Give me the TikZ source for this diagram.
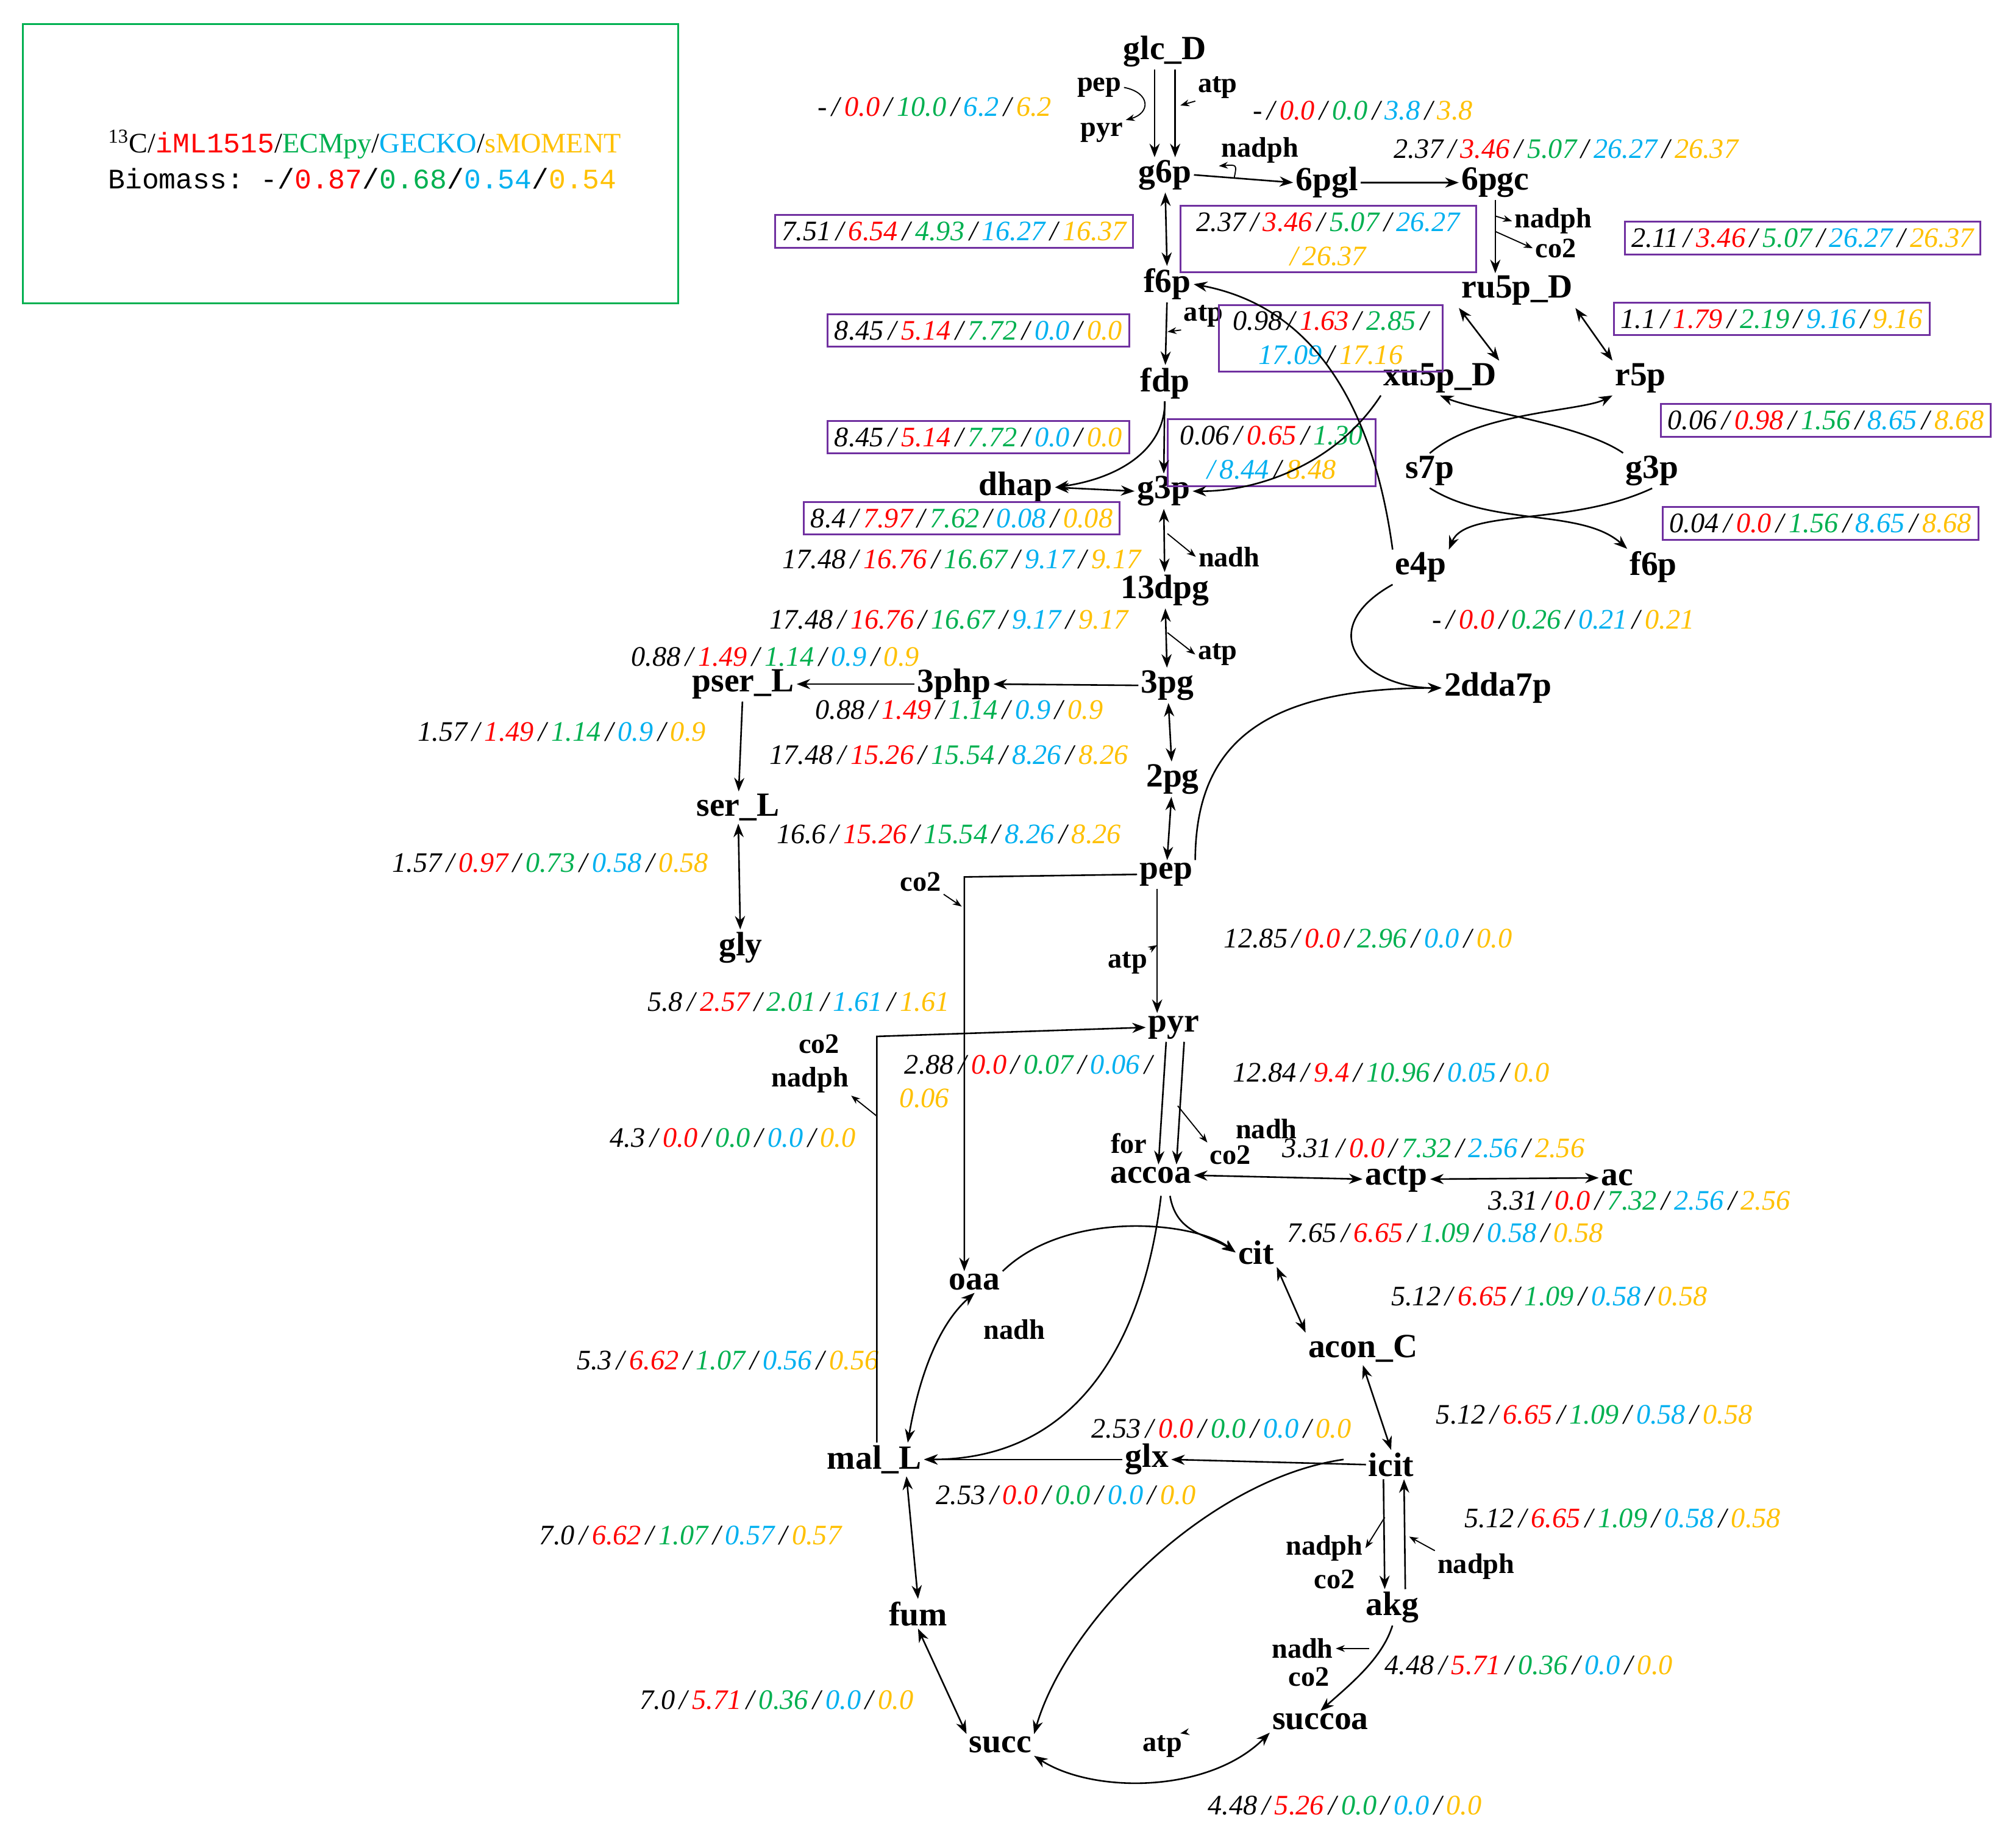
\documentclass[tikz,border=0pt]{standalone}
\usepackage{fontspec}
\setmainfont{Liberation Serif}
\setmonofont{Liberation Mono}
\usetikzlibrary{arrows.meta}
\definecolor{cR}{RGB}{255,0,0}
\definecolor{cG}{RGB}{0,176,80}
\definecolor{cB}{RGB}{0,176,240}
\definecolor{cO}{RGB}{255,192,0}
\definecolor{cP}{RGB}{112,48,160}
\newcommand\fl[5]{#1\,/\,\textcolor{cR}{#2}\,/\,\textcolor{cG}{#3}\,/\,\textcolor{cB}{#4}\,/\,\textcolor{cO}{#5}}
\begin{document}
\begin{tikzpicture}[x=0.02cm,y=-0.02cm,
 met/.style={font=\fontsize{15}{17}\selectfont\bfseries,inner sep=1pt},
 sm/.style={font=\fontsize{12.5}{14}\selectfont\bfseries,inner sep=1pt},
 num/.style={font=\fontsize{12.5}{15}\selectfont\itshape,inner sep=1pt},
 boxed/.style={num,draw=cP,line width=0.8pt,inner sep=3pt},
 ar/.style={-{Stealth[length=6pt,width=4.5pt]},line width=0.7pt},
 dbl/.style={{Stealth[length=6pt,width=4.5pt]}-{Stealth[length=6pt,width=4.5pt]},line width=0.7pt},
 tiny/.style={-{Stealth[length=4pt,width=3pt]},line width=0.5pt}]
\useasboundingbox (0,0) rectangle (1568,1420);
% legend
\node[draw=cG,line width=0.8pt,minimum width=510*0.02cm,minimum height=217*0.02cm,anchor=north west] (leg) at (17,18) {};
\node[anchor=west,font=\fontsize{12.5}{16}\selectfont,align=left] (legt) at (78,124) {\textsuperscript{13}C/\texttt{\textcolor{cR}{iML1515}}/\textcolor{cG}{ECMpy}/\textcolor{cB}{GECKO}/\textcolor{cO}{sMOMENT}\\ \texttt{Biomass: -/\textcolor{cR}{0.87}/\textcolor{cG}{0.68}/\textcolor{cB}{0.54}/\textcolor{cO}{0.54}}};
% metabolites
\node[met] (glc) at (906,40) {glc\_D};
\node[met] (g6p) at (906,136) {g6p};
\node[met] (pgl) at (1032,142) {6pgl};
\node[met] (pgc) at (1163,142) {6pgc};
\node[met] (f6p) at (908,221) {f6p};
\node[met] (ru5p) at (1180,226) {ru5p\_D};
\node[met] (xu5p) at (1120,294) {xu5p\_D};
\node[met] (r5p) at (1276,294) {r5p};
\node[met] (fdp) at (906,298) {fdp};
\node[met] (s7p) at (1112,366) {s7p};
\node[met] (g3pr) at (1285,366) {g3p};
\node[met] (dhap) at (790,379) {dhap};
\node[met] (g3p) at (905,382) {g3p};
\node[met] (e4p) at (1105,441) {e4p};
\node[met] (f6pr) at (1286,441) {f6p};
\node[met] (dpg) at (906,459) {13dpg};
\node[met] (pg3) at (908,533) {3pg};
\node[met] (php) at (742,532) {3php};
\node[met] (pser) at (578,532) {pser\_L};
\node[met] (dda) at (1165,535) {2dda7p};
\node[met] (pg2) at (912,606) {2pg};
\node[met] (ser) at (574,628) {ser\_L};
\node[met] (pep) at (907,680) {pep};
\node[met] (gly) at (576,737) {gly};
\node[met] (pyr) at (913,799) {pyr};
\node[met] (accoa) at (895,914) {accoa};
\node[met] (actp) at (1086,917) {actp};
\node[met] (ac) at (1258,916) {ac};
\node[met] (cit) at (977,974) {cit};
\node[met] (oaa) at (758,997) {oaa};
\node[met] (acon) at (1060,1049) {acon\_C};
\node[met] (mal) at (680,1135) {mal\_L};
\node[met] (glx) at (892,1135) {glx};
\node[met] (icit) at (1082,1139) {icit};
\node[met] (akg) at (1083,1250) {akg};
\node[met] (fum) at (714,1255) {fum};
\node[met] (succoa) at (1027,1339) {succoa};
\node[met] (succ) at (778,1357) {succ};
% cofactors
\node[sm] (c1) at (855,68) {pep};
\node[sm] (c2) at (857,103) {pyr};
\node[sm] (c3) at (947,68) {atp};
\node[sm] (c4) at (980,117) {nadph};
\node[sm] (c5) at (1208,172) {nadph};
\node[sm] (c6) at (1210,193) {co2};
\node[sm] (c7) at (936,246) {atp};
\node[sm] (c8) at (956,433) {nadh};
\node[sm] (c9) at (947,509) {atp};
\node[sm] (c10) at (716,686) {co2};
\node[sm] (c11) at (877,749) {atp};
\node[sm] (c12) at (637,812) {co2};
\node[sm] (c13) at (630,840) {nadph};
\node[sm] (c14) at (878,889) {for};
\node[sm] (c15) at (957,898) {co2};
\node[sm] (c16) at (985,878) {nadh};
\node[sm] (c17) at (789,1034) {nadh};
\node[sm] (c18) at (1030,1204) {nadph};
\node[sm] (c19) at (1038,1228) {co2};
\node[sm] (c20) at (1148,1218) {nadph};
\node[sm] (c21) at (1013,1282) {nadh};
\node[sm] (c22) at (1018,1304) {co2};
\node[sm] (c23) at (904,1358) {atp};
% fluxes
\node[num] (f1) at (727,83) {\fl{-}{0.0}{10.0}{6.2}{6.2}};
\node[num] (f2) at (1060,86) {\fl{-}{0.0}{0.0}{3.8}{3.8}};
\node[num] (f3) at (1218,116) {\fl{2.37}{3.46}{5.07}{26.27}{26.37}};
\node[boxed] (b1) at (742,180) {\fl{7.51}{6.54}{4.93}{16.27}{16.37}};
\node[boxed,align=center,minimum width=230*0.02cm] (b2) at (1033,186) {2.37\,/\,\textcolor{cR}{3.46}\,/\,\textcolor{cG}{5.07}\,/\,\textcolor{cB}{26.27}\\ \textcolor{cO}{/\,26.37}};
\node[boxed] (b3) at (1402,185) {\fl{2.11}{3.46}{5.07}{26.27}{26.37}};
\node[boxed] (b4) at (761,257) {\fl{8.45}{5.14}{7.72}{0.0}{0.0}};
\node[boxed,align=center,minimum width=174*0.02cm] (b5) at (1035,263) {0.98\,/\,\textcolor{cR}{1.63}\,/\,\textcolor{cG}{2.85}\,/\\ \textcolor{cB}{17.09}\,/\,\textcolor{cO}{17.16}};
\node[boxed] (b6) at (1378,248) {\fl{1.1}{1.79}{2.19}{9.16}{9.16}};
\node[boxed] (b7) at (1420,327) {\fl{0.06}{0.98}{1.56}{8.65}{8.68}};
\node[boxed] (b8) at (761,340) {\fl{8.45}{5.14}{7.72}{0.0}{0.0}};
\node[boxed,align=center,minimum width=162*0.02cm] (b9) at (989,352) {0.06\,/\,\textcolor{cR}{0.65}\,/\,\textcolor{cG}{1.30}\\ \textcolor{cB}{/\,8.44}\,/\,\textcolor{cO}{8.48}};
\node[boxed] (b10) at (748,403) {\fl{8.4}{7.97}{7.62}{0.08}{0.08}};
\node[boxed] (b11) at (1416,407) {\fl{0.04}{0.0}{1.56}{8.65}{8.68}};
\node[num] (f4) at (748,435) {\fl{17.48}{16.76}{16.67}{9.17}{9.17}};
\node[num] (f5) at (738,482) {\fl{17.48}{16.76}{16.67}{9.17}{9.17}};
\node[num] (f6) at (1216,482) {\fl{-}{0.0}{0.26}{0.21}{0.21}};
\node[num] (f7) at (603,511) {\fl{0.88}{1.49}{1.14}{0.9}{0.9}};
\node[num] (f8) at (746,552) {\fl{0.88}{1.49}{1.14}{0.9}{0.9}};
\node[num] (f9) at (437,569) {\fl{1.57}{1.49}{1.14}{0.9}{0.9}};
\node[num] (f10) at (738,587) {\fl{17.48}{15.26}{15.54}{8.26}{8.26}};
\node[num] (f11) at (738,649) {\fl{16.6}{15.26}{15.54}{8.26}{8.26}};
\node[num] (f12) at (428,671) {\fl{1.57}{0.97}{0.73}{0.58}{0.58}};
\node[num] (f13) at (1064,730) {\fl{12.85}{0.0}{2.96}{0.0}{0.0}};
\node[num] (f14) at (621,779) {\fl{5.8}{2.57}{2.01}{1.61}{1.61}};
\node[num] (f15) at (800,828) {2.88\,/\,\textcolor{cR}{0.0}\,/\,\textcolor{cG}{0.07}\,/\,\textcolor{cB}{0.06}\,/};
\node[num] (f15b) at (719,854) {\textcolor{cO}{0.06}};
\node[num] (f16) at (1082,834) {\fl{12.84}{9.4}{10.96}{0.05}{0.0}};
\node[num] (f17) at (570,885) {\fl{4.3}{0.0}{0.0}{0.0}{0.0}};
\node[num] (f18) at (1115,893) {\fl{3.31}{0.0}{7.32}{2.56}{2.56}};
\node[num] (f19) at (1275,934) {\fl{3.31}{0.0}{7.32}{2.56}{2.56}};
\node[num] (f20) at (1124,959) {\fl{7.65}{6.65}{1.09}{0.58}{0.58}};
\node[num] (f21) at (1205,1008) {\fl{5.12}{6.65}{1.09}{0.58}{0.58}};
\node[num] (f22) at (566,1058) {\fl{5.3}{6.62}{1.07}{0.56}{0.56}};
\node[num] (f23) at (1240,1100) {\fl{5.12}{6.65}{1.09}{0.58}{0.58}};
\node[num] (f24) at (950,1111) {\fl{2.53}{0.0}{0.0}{0.0}{0.0}};
\node[num] (f25) at (829,1163) {\fl{2.53}{0.0}{0.0}{0.0}{0.0}};
\node[num] (f26) at (1262,1181) {\fl{5.12}{6.65}{1.09}{0.58}{0.58}};
\node[num] (f27) at (537,1194) {\fl{7.0}{6.62}{1.07}{0.57}{0.57}};
\node[num] (f28) at (1189,1295) {\fl{4.48}{5.71}{0.36}{0.0}{0.0}};
\node[num] (f29) at (604,1322) {\fl{7.0}{5.71}{0.36}{0.0}{0.0}};
\node[num] (f30) at (1046,1404) {\fl{4.48}{5.26}{0.0}{0.0}{0.0}};
% connectors: glycolysis
\draw[ar] ([xshift=-8*0.02cm]glc.south) -- ([xshift=-8*0.02cm]g6p.north);
\draw[ar] ([xshift=8*0.02cm]glc.south) -- ([xshift=8*0.02cm]g6p.north);
\draw[tiny] (c1.east) .. controls (895,72) and (895,88) .. (c2.north east);
\draw[tiny] (c3.south west) -- (918,82);
\draw[ar] (g6p.east) -- (pgl.west);
\draw[tiny] (960,138) .. controls (962,128) .. (c4.south west);
\draw[ar] (pgl.east) -- (pgc.west);
\draw[ar] (pgc.south) -- (ru5p.north -| pgc.south);
\draw[tiny] (1163,168) -- (c5.west);
\draw[tiny] (1163,180) -- (c6.west);
\draw[dbl] (g6p) -- (f6p);
\draw[ar] (f6p) -- (fdp);
\draw[tiny] (c7.south west) -- (908,258);
\draw[ar] (fdp.south) .. controls (906,350) and (870,372) .. (dhap.east);
\draw[ar] (fdp) -- (g3p);
\draw[dbl] (dhap.east) -- (g3p.west);
\draw[dbl] (g3p) -- (dpg);
\draw[tiny] (908,415) -- (c8.west);
\draw[dbl] (dpg) -- (pg3);
\draw[tiny] (908,492) -- (c9.west);
\draw[ar] (pg3.west) -- (php.east);
\draw[ar] (php.west) -- (pser.east);
\draw[ar] (pser) -- (ser);
\draw[dbl] (ser) -- (gly);
\draw[dbl] (pg3) -- (pg2);
\draw[dbl] (pg2) -- (pep);
\draw[ar] (pep.north east) .. controls (930,580) and (980,535) .. (dda.west);
\draw[ar] (e4p.south west) .. controls (1020,490) and (1060,535) .. (dda.west);
% PPP
\draw[dbl] (ru5p.south west) -- (xu5p.north east);
\draw[dbl] (ru5p.south east) -- (r5p.north west);
\draw[ar] (e4p.north west) .. controls (1070,330) and (1030,240) .. (f6p.east);
\draw[ar] (xu5p.south west) .. controls (1040,360) and (980,382) .. (g3p.east);
\draw[ar] (g3pr.north west) .. controls (1230,330) and (1150,320) .. (xu5p.south);
\draw[ar] (s7p.north) .. controls (1150,320) and (1230,320) .. (r5p.south west);
\draw[ar] (s7p.south) .. controls (1160,410) and (1230,395) .. (f6pr.north west);
\draw[ar] (g3pr.south) .. controls (1220,410) and (1140,395) .. (e4p.north east);
% lower
\draw[ar] (pep.west) -- (750,682) -- (oaa.north -| 750,0);
\draw[tiny] (c10.south east) -- (748,705);
\draw[ar] (pep.south -| 900,0) -- (pyr.north -| 900,0);
\draw[tiny] (c11.north east) -- (900,735);
\draw[ar] (mal.north -| 682,0) -- (682,806) -- (pyr.west);
\draw[tiny] (682,868) -- (c13.south east);
\draw[ar] ([xshift=-6*0.02cm]pyr.south) -- ([xshift=6*0.02cm]accoa.north);
\draw[ar] ([xshift=8*0.02cm]pyr.south) -- ([xshift=20*0.02cm]accoa.north);
\draw[tiny] (916,860) -- (c15.north west);
\draw[dbl] (accoa.east) -- (actp.west);
\draw[dbl] (actp.east) -- (ac.west);
\draw[ar] (910,930) .. controls (915,960) and (940,960) .. (cit.west);
\draw[ar] (oaa.north east) .. controls (830,940) and (930,950) .. (cit.west);
\draw[ar] (903,930) .. controls (890,1040) and (840,1135) .. (mal.east);
\draw[dbl] (cit.south east) -- (acon.north west);
\draw[dbl] (acon.south) -- (icit.north);
\draw[ar] (icit.west) -- (glx.east);
\draw[ar] (glx.west) -- (mal.east);
\draw[ar] (1045,1135) .. controls (940,1150) and (830,1260) .. (succ.north east);
\draw[ar] ([xshift=-6*0.02cm]icit.south) -- ([xshift=-6*0.02cm]akg.north);
\draw[tiny] (1077,1180) -- (c18.east);
\draw[ar] ([xshift=10*0.02cm]akg.north) -- ([xshift=10*0.02cm]icit.south);
\draw[tiny] (c20.north west) -- (1096,1195);
\draw[ar] (akg.south) .. controls (1075,1290) and (1050,1310) .. (succoa.north);
\draw[tiny] (1065,1282) -- (c21.east);
\draw[dbl] (succoa.south west) .. controls (940,1395) and (850,1395) .. (succ.south east);
\draw[tiny] (c23.north east) -- (918,1348);
\draw[dbl] (succ.north west) -- (fum.south);
\draw[dbl] (fum.north) -- (mal.south -| 705,0);
\draw[dbl] (mal.north -| 706,0) .. controls (715,1070) and (730,1030) .. (oaa.south);
\end{tikzpicture}
\end{document}
